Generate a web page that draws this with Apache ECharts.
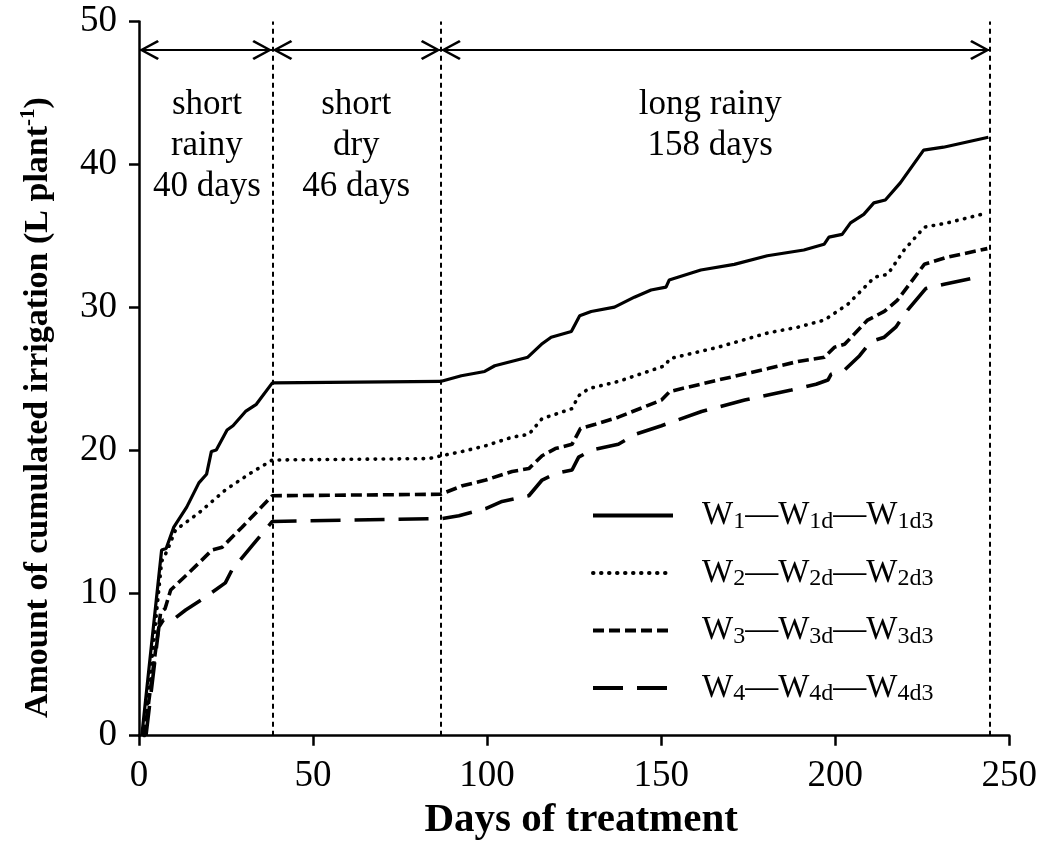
<!DOCTYPE html>
<html>
<head>
<meta charset="utf-8">
<script src="https://cdn.jsdelivr.net/npm/echarts@6/dist/echarts.min.js"></script>
<style>
  html, body { margin: 0; padding: 0; background: #fff; }
  #chart { width: 1040px; height: 848px; }
</style>
</head>
<body>
<div id="chart"></div>
<script>
// ---- data ----
const w1X = [0.8, 6.5, 7.8, 10, 13.7, 17.2, 19.4, 20.8, 22.2, 25.3, 27, 30.6, 33.7, 38.3, 86.6, 92.6, 99.3, 102.2, 111.7, 115.6, 118.4, 124.2, 126.6, 129.9, 136.6, 142.3, 147.1, 151.4, 152.3, 161.4, 171, 180.5, 191, 196.8, 198.2, 202, 204.4, 208.2, 211.1, 214.4, 218.7, 225.4, 231.1, 244];
const w1Y = [0, 13.0, 13.1, 14.6, 16.0, 17.7, 18.3, 19.9, 20.0, 21.4, 21.7, 22.7, 23.2, 24.7, 24.8, 25.2, 25.5, 25.9, 26.5, 27.4, 27.9, 28.3, 29.4, 29.7, 30.0, 30.7, 31.2, 31.4, 31.9, 32.6, 33.0, 33.6, 34.0, 34.4, 34.9, 35.1, 35.9, 36.5, 37.3, 37.5, 38.7, 41.0, 41.2, 41.9];

const w2X = [1.5, 6.5, 8, 10.5, 17.2, 24.8, 31.5, 38.3, 83.3, 86.9, 92.9, 99.6, 107.2, 112, 115.8, 119.6, 124.4, 126.3, 129.2, 137.7, 151.1, 152.5, 166.4, 180.7, 189.3, 196.9, 203.6, 211.3, 215.1, 219.8, 225.6, 232.2, 243.7];
const w2Y = [0, 12.2, 12.9, 14.4, 15.6, 17.2, 18.3, 19.3, 19.4, 19.6, 19.9, 20.3, 20.9, 21.1, 22.2, 22.5, 22.9, 23.8, 24.3, 24.8, 25.9, 26.4, 27.2, 28.2, 28.6, 29.1, 30.2, 32.1, 32.3, 34.0, 35.6, 35.9, 36.6];

const w3X = [1.5, 6.2, 7.5, 9.1, 14.3, 21, 23.9, 29.6, 38.3, 86.6, 92.9, 99.6, 107.2, 112, 115.8, 119.6, 124.4, 126.8, 131.1, 137.7, 150.1, 152.5, 166.4, 180.7, 189.3, 196.9, 199.8, 202.7, 209.3, 214.1, 217.9, 225.6, 232.2, 243.7];
const w3Y = [0, 8.6, 8.9, 10.2, 11.4, 13.0, 13.2, 14.6, 16.8, 16.9, 17.5, 17.9, 18.5, 18.7, 19.6, 20.1, 20.4, 21.5, 21.8, 22.3, 23.5, 24.1, 24.9, 25.7, 26.2, 26.5, 27.2, 27.4, 29.1, 29.7, 30.5, 33.0, 33.5, 34.1];

const w4X = [2, 5.7, 7, 9.1, 13.4, 19.1, 24.8, 26.7, 32.5, 38.3, 86.9, 91.9, 99.6, 104.3, 112, 115.8, 119.6, 124.4, 126.3, 130.1, 137.7, 142.5, 150.1, 161.6, 174, 187.4, 194.5, 197.9, 198.8, 202.7, 207, 210.3, 214.1, 217.4, 220.8, 226, 231.3, 238.9, 240.5];
const w4Y = [0, 7.6, 8.1, 8.0, 8.8, 9.7, 10.7, 11.6, 13.3, 15.0, 15.2, 15.4, 15.9, 16.4, 16.8, 17.9, 18.35, 18.6, 19.5, 20.0, 20.4, 21.1, 21.7, 22.7, 23.5, 24.2, 24.6, 24.9, 25.3, 25.6, 26.6, 27.6, 27.9, 28.6, 29.8, 31.3, 31.6, 32.0, 32.1];

const seriesNames = ['W1', 'W2', 'W3', 'W4'];
const legendSubs = [['1', '1d', '1d3'], ['2', '2d', '2d3'], ['3', '3d', '3d3'], ['4', '4d', '4d3']];

const periodBounds = [38.3, 86.7, 244.5];
const arrowSpans = [[0, 38.3], [38.3, 86.7], [86.7, 244.5]];
const arrowLevel = 48;
const periodLabels = ['short\nrainy\n40 days', 'short\ndry\n46 days', 'long rainy\n158 days'];
const periodLabelPos = [[19.5, 41.3], [62.4, 41.3], [164.1, 42.7]];

const xTicks = { min: 0, max: 250, interval: 50 };
const yTicks = { min: 0, max: 50, interval: 10 };

// ---- chart ----
const FONT = 'Liberation Serif';
const zip = (xs, ys) => xs.map((x, i) => [x, ys[i]]);
const styles = [
  { type: 'solid', width: 3.2 },
  { type: [0.5, 7.5], width: 3.6, cap: 'round' },
  { type: [11, 5], width: 3.6 },
  { type: [30, 14], width: 3.6 }
];
const dataSets = [zip(w1X, w1Y), zip(w2X, w2Y), zip(w3X, w3Y), zip(w4X, w4Y)];

// open chevron, tip at the centre of the bounding box (extra moveTo extends the box)
const chevron = 'path://M5,0 L10,9 L9,9.8 L5,2.4 L1,9.8 L0,9 Z M5,-9.8';

const series = seriesNames.map((n, i) => ({
  name: n,
  type: 'line',
  data: dataSets[i],
  symbol: 'none',
  showSymbol: false,
  smooth: false,
  lineStyle: Object.assign({ color: '#000' }, styles[i]),
  itemStyle: { color: '#000' },
  z: 3
}));

series.push({
  name: 'helper',
  type: 'line',
  data: [],
  symbol: 'none',
  silent: true,
  markLine: {
    silent: true,
    animation: false,
    symbol: ['none', 'none'],
    label: { show: false },
    lineStyle: { color: '#000', type: [5, 4], width: 2 },
    data: periodBounds.map(v => ({ xAxis: v }))
  },
  markPoint: {
    silent: true,
    symbol: 'circle',
    symbolSize: 0,
    label: {
      show: true,
      position: 'inside',
      fontFamily: FONT,
      fontSize: 35,
      lineHeight: 41,
      color: '#000',
      align: 'center',
      verticalAlign: 'middle',
      formatter: p => p.name
    },
    data: periodLabels.map((t, i) => ({ name: t, coord: periodLabelPos[i] }))
  }
});

series.push({
  name: 'arrows',
  type: 'line',
  data: [],
  symbol: 'none',
  silent: true,
  markLine: {
    silent: true,
    animation: false,
    symbol: [chevron, chevron],
    symbolSize: [20, 40],
    label: { show: false },
    lineStyle: { color: '#000', type: 'solid', width: 2.2 },
    data: arrowSpans.map(s => [{ coord: [s[0], arrowLevel] }, { coord: [s[1], arrowLevel] }])
  }
});

const option = {
  animation: false,
  backgroundColor: '#fff',
  grid: { left: 139, right: 28, top: 21.5, bottom: 112.3, containLabel: false },
  xAxis: {
    type: 'value',
    min: xTicks.min, max: xTicks.max, interval: xTicks.interval,
    name: 'Days of treatment',
    nameLocation: 'middle',
    nameGap: 54,
    nameTextStyle: { fontFamily: FONT, fontWeight: 'bold', fontSize: 41, color: '#000', verticalAlign: 'top', padding: [0, 0, 0, 14] },
    axisLine: { show: true, lineStyle: { color: '#000', width: 2.5 } },
    axisTick: { show: true, inside: false, length: 10, lineStyle: { color: '#000', width: 2.5 } },
    axisLabel: { fontFamily: FONT, fontSize: 37, color: '#000', margin: 22 },
    splitLine: { show: false }
  },
  yAxis: {
    type: 'value',
    min: yTicks.min, max: yTicks.max, interval: yTicks.interval,
    name: '{b|Amount of cumulated irrigation (L plant}{sup|-1}{b|)}',
    nameLocation: 'middle',
    nameGap: 81,
    nameTextStyle: {
      padding: [0, 58, 0, 0],
      rich: {
        b: { fontFamily: FONT, fontWeight: 'bold', fontSize: 34, color: '#000', lineHeight: 40 },
        sup: { fontFamily: FONT, fontWeight: 'bold', fontSize: 21, color: '#000', lineHeight: 22, verticalAlign: 'top' }
      }
    },
    axisLine: { show: true, lineStyle: { color: '#000', width: 2.5 } },
    axisTick: { show: true, inside: false, length: 10, lineStyle: { color: '#000', width: 2.5 } },
    axisLabel: { fontFamily: FONT, fontSize: 37, color: '#000', margin: 22 },
    splitLine: { show: false }
  },
  legend: {
    data: seriesNames,
    orient: 'vertical',
    left: 586,
    top: 494,
    itemWidth: 80,
    itemHeight: 14,
    itemGap: 23,
    selectedMode: false,
    itemStyle: { opacity: 0 },
    lineStyle: { width: 4 },
    formatter: function (name) {
      const k = seriesNames.indexOf(name);
      const s = legendSubs[k];
      return '{gap|}{n|W}{s|' + s[0] + '}{n|\u2014W}{s|' + s[1] + '}{n|\u2014W}{s|' + s[2] + '}';
    },
    textStyle: {
      rich: {
        gap: { width: 24, lineHeight: 36 },
        n: { fontFamily: FONT, fontSize: 33, color: '#000', lineHeight: 36 },
        s: { fontFamily: FONT, fontSize: 24, color: '#000', lineHeight: 19, verticalAlign: 'bottom' }
      }
    }
  },
  series: series
};

const chart = echarts.init(document.getElementById('chart'), null, { renderer: 'canvas' });
chart.setOption(option);
</script>
</body>
</html>
